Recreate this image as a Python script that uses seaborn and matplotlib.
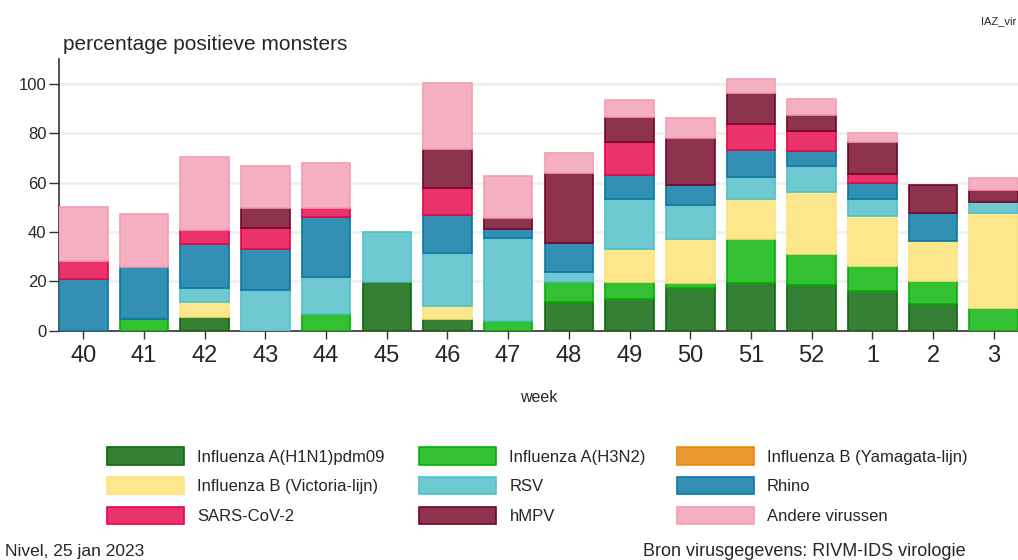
import matplotlib
matplotlib.use("Agg")
import matplotlib.pyplot as plt
from matplotlib.patches import Patch
import seaborn as sns
import pandas as pd

# data (percentage positive samples per week)
weeks = ['40', '41', '42', '43', '44', '45', '46', '47', '48', '49', '50', '51', '52', '1', '2', '3']

h1n1 = [0, 0, 5.5, 0, 0, 19.8, 4.7, 0, 11.6, 12.9, 17.4, 19.3, 18.5, 16.3, 10.9, 0]
h3n2 = [0, 4.9, 0, 0, 6.9, 0, 0, 3.9, 8.1, 6.9, 1.9, 17.8, 12.6, 10.0, 9.3, 9.3]
yamagata = [0, 0, 0, 0, 0, 0, 0, 0, 0, 0, 0, 0, 0, 0, 0, 0]
victoria = [0, 0, 6.2, 0, 0, 0, 5.5, 0, 0, 13.5, 17.9, 16.3, 25.1, 20.3, 16.2, 38.3]
rsv = [0, 0, 5.8, 16.6, 14.8, 20.1, 21.2, 33.6, 4.2, 20.1, 13.7, 9.0, 10.5, 6.6, 0, 4.7]
rhino = [21.0, 21.0, 17.7, 16.6, 24.5, 0, 15.6, 3.7, 11.8, 9.7, 7.9, 10.8, 6.1, 6.8, 11.2, 0]
sars = [7.3, 0, 5.5, 8.4, 3.4, 0, 10.8, 0, 0, 13.4, 0, 10.5, 8.2, 3.3, 0, 0]
hmpv = [0, 0, 0, 8.0, 0, 0, 15.7, 4.4, 28.0, 9.9, 19.2, 12.4, 6.2, 13.0, 11.3, 4.6]
andere = [21.7, 21.3, 29.8, 17.1, 18.2, 0, 26.6, 16.9, 8.1, 7.0, 8.1, 5.7, 6.5, 3.6, 0, 4.8]

series = [
    ("Influenza A(H1N1)pdm09", h1n1, "#368036", "#0b6a0b"),
    ("Influenza A(H3N2)", h3n2, "#33c033", "#05b005"),
    ("Influenza B (Yamagata-lijn)", yamagata, "#ec9833", "#e68a05"),
    ("Influenza B (Victoria-lijn)", victoria, "#fde78c", "#fde27a"),
    ("RSV", rsv, "#6ec9d0", "#50c0c8"),
    ("Rhino", rhino, "#338fb4", "#0a77a2"),
    ("SARS-CoV-2", sars, "#ea336b", "#e8054c"),
    ("hMPV", hmpv, "#8d334e", "#74052b"),
    ("Andere virussen", andere, "#f4afc0", "#f29db3"),
]

sns.set_style("white")
plt.rcParams['font.family'] = ['Liberation Sans', 'DejaVu Sans']

fig = plt.figure(figsize=(10.18, 5.6), dpi=100)
ax = fig.add_axes([0.058, 0.409, 0.942, 0.486])

bottom = [0.0] * len(weeks)
for name, vals, fill, edge in series:
    df = pd.DataFrame({"week": weeks, "value": vals, "bottom": bottom})
    df = df[df["value"] > 0]
    if len(df):
        sns.barplot(data=df, x="week", y="value", order=weeks, bottom=df["bottom"].values,
                    color=fill, saturation=1, edgecolor=edge, linewidth=1.2,
                    width=0.8, errorbar=None, ax=ax, zorder=3)
    bottom = [b + v for b, v in zip(bottom, vals)]

ax.set_xlim(-0.4, 15.4)
ax.set_ylim(0, 110)
ax.set_yticks([0, 20, 40, 60, 80, 100])
ax.grid(axis="y", color="#edf1f1", linewidth=2, zorder=0)
ax.set_axisbelow(True)
for s in ["top", "right"]:
    ax.spines[s].set_visible(False)
for s in ["left", "bottom"]:
    ax.spines[s].set_color("#333333")
    ax.spines[s].set_linewidth(1.2)
ax.tick_params(axis="x", labelsize=17, length=6, width=1, color="#333333", pad=4, bottom=True)
ax.tick_params(axis="y", labelsize=12, length=7, width=1, color="#333333", pad=2, left=True)
ax.set_xlabel("week", fontsize=11.5, labelpad=17)
ax.set_ylabel("")

fig.text(0.062, 0.903, "percentage positieve monsters", fontsize=15, ha="left", va="bottom")
fig.text(0.998, 0.962, "IAZ_vir", fontsize=8, ha="right", va="center")

# legend: three columns placed separately to match spacing
col_x = [0.105, 0.412, 0.665]
for ci in range(3):
    handles = []
    for ri in range(3):
        name, vals, fill, edge = series[ri * 3 + ci]
        handles.append(Patch(facecolor=fill, edgecolor=edge, linewidth=1.2, label=name))
    fig.legend(handles=handles, loc="upper left", bbox_to_anchor=(col_x[ci], 0.201),
               bbox_transform=fig.transFigure, frameon=False, fontsize=12,
               handlelength=4.6, handleheight=1.2, handletextpad=0.8, labelspacing=0.76,
               borderaxespad=0, borderpad=0)

fig.text(0.005, 0.015, "Nivel, 25 jan 2023", fontsize=12.5, ha="left", va="center")
fig.text(0.949, 0.015, "Bron virusgegevens: RIVM-IDS virologie", fontsize=13, ha="right", va="center")

fig.savefig("out.png", dpi=100)
